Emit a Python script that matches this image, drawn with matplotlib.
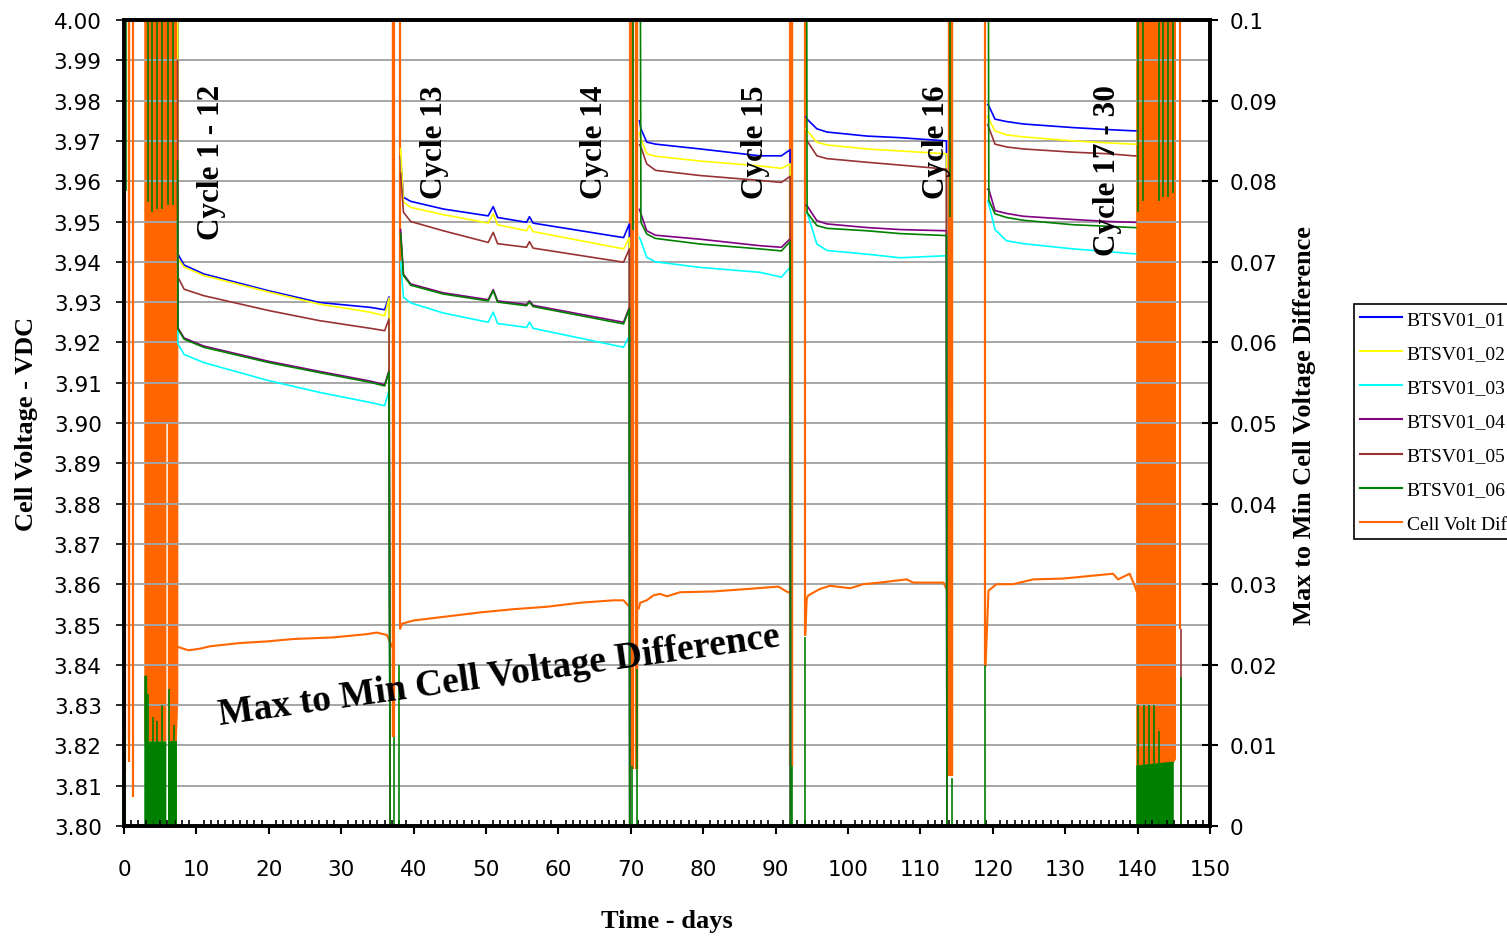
import numpy as np
import matplotlib
matplotlib.use('Agg')
import matplotlib.pyplot as plt
from matplotlib.lines import Line2D

nan = np.nan

# ---- cell voltages during the rest periods (days, VDC) ----
rest_days = [7.40, 7.45, 8.3, 11.0, 20.0, 27.0, 34.0, 36.0, 36.6, 36.9, nan,
             38.2, 38.6, 39.6, 44.1, 50.3, 51.0, 51.6, 55.6, 56.0, 56.5, 69.0, 69.8, 69.9, nan,
             71.2, 71.4, 72.2, 73.4, 79.6, 87.8, 90.8, 92.0, 92.1, nan,
             94.2, 94.35, 95.7, 97.1, 102.6, 107.2, 113.6, 113.7, nan,
             119.3, 119.45, 120.3, 121.9, 124.2, 131.1, 136.0, 139.4, 139.75]

btsv01_01 = [4.10, 3.9419, 3.9392, 3.9370, 3.9328, 3.9299, 3.9287, 3.9281, 3.9313, 3.70, nan,
             3.966, 3.9560, 3.9550, 3.9531, 3.9514, 3.9537, 3.9510, 3.9498, 3.9512, 3.9496, 3.9460, 3.9494, 3.70, nan,
             3.975, 3.9730, 3.9697, 3.9692, 3.9680, 3.9663, 3.9663, 3.9678, 3.70, nan,
             3.976, 3.9754, 3.9730, 3.9722, 3.9712, 3.9708, 3.9700, 3.70, nan,
             3.979, 3.9787, 3.9754, 3.9748, 3.9742, 3.9733, 3.9728, 3.9725, 3.9725]
btsv01_02 = [4.10, 3.9407, 3.9387, 3.9366, 3.9325, 3.9295, 3.9275, 3.9266, 3.9310, 3.70, nan,
             3.968, 3.9548, 3.9535, 3.9517, 3.9496, 3.9519, 3.9492, 3.9477, 3.9490, 3.9475, 3.9432, 3.9460, 3.70, nan,
             3.972, 3.9705, 3.9668, 3.9662, 3.9650, 3.9638, 3.9632, 3.9643, 3.70, nan,
             3.973, 3.9725, 3.9697, 3.9690, 3.9680, 3.9675, 3.9668, 3.70, nan,
             3.976, 3.9754, 3.9725, 3.9715, 3.9710, 3.9700, 3.9695, 3.9692, 3.9692]
btsv01_03 = [3.950, 3.9196, 3.9170, 3.9150, 3.9105, 3.9076, 3.9051, 3.9043, 3.9080, 3.70, nan,
             3.940, 3.9312, 3.9298, 3.9273, 3.9250, 3.9275, 3.9247, 3.9237, 3.9250, 3.9235, 3.9188, 3.9216, 3.70, nan,
             3.946, 3.9452, 3.9411, 3.9400, 3.9386, 3.9374, 3.9362, 3.9386, 3.70, nan,
             3.9522, 3.9522, 3.9444, 3.9428, 3.9419, 3.9410, 3.9415, 3.70, nan,
             3.955, 3.9543, 3.9480, 3.9452, 3.9445, 3.9432, 3.9425, 3.9420, 3.9420]
btsv01_04 = [3.960, 3.9236, 3.9211, 3.9191, 3.9153, 3.9128, 3.9104, 3.9095, 3.9130, 3.70, nan,
             3.948, 3.9369, 3.9345, 3.9323, 3.9306, 3.9331, 3.9303, 3.9294, 3.9303, 3.9292, 3.9250, 3.9287, 3.70, nan,
             3.953, 3.9519, 3.9477, 3.9466, 3.9456, 3.9440, 3.9436, 3.9457, 3.70, nan,
             3.954, 3.9539, 3.9502, 3.9494, 3.9485, 3.9480, 3.9477, 3.70, nan,
             3.958, 3.9580, 3.9527, 3.9520, 3.9513, 3.9505, 3.9500, 3.9498, 3.9498]
btsv01_05 = [3.990, 3.9362, 3.9332, 3.9316, 3.9279, 3.9254, 3.9235, 3.9229, 3.9258, 3.70, nan,
             3.962, 3.9523, 3.9500, 3.9477, 3.9448, 3.9473, 3.9445, 3.9436, 3.9450, 3.9434, 3.9399, 3.9432, 3.70, nan,
             3.969, 3.9685, 3.9643, 3.9627, 3.9614, 3.9602, 3.9597, 3.9612, 3.70, nan,
             3.970, 3.9700, 3.9663, 3.9656, 3.9647, 3.9640, 3.9630, 3.70, nan,
             3.974, 3.9733, 3.9692, 3.9685, 3.9680, 3.9672, 3.9668, 3.9663, 3.9663]
btsv01_06 = [3.965, 3.9233, 3.9208, 3.9188, 3.9150, 3.9125, 3.9101, 3.9092, 3.9127, 3.70, nan,
             3.947, 3.9366, 3.9342, 3.9320, 3.9303, 3.9328, 3.9300, 3.9291, 3.9300, 3.9289, 3.9246, 3.9283, 3.70, nan,
             4.10, 3.9498, 3.9469, 3.9458, 3.9444, 3.9432, 3.9427, 3.9450, 3.70, nan,
             4.10, 3.9522, 3.9490, 3.9483, 3.9477, 3.9470, 3.9465, 3.70, nan,
             4.10, 3.9553, 3.9519, 3.9510, 3.9503, 3.9492, 3.9488, 3.9485, 3.9485]

# green (cell 6) swings seen inside the cycling blocks and spikes
green_low_days = [0.15, 3.36, 4.05, 4.51, 5.20, 6.26, 6.91, 37.3, 38.05, 70.1, 70.9,
                  92.3, 94.1, 114.3, 118.95, 140.1, 140.9, 141.6, 142.3, 143.0, 145.95]
green_low_tops = [3.8236, 3.8328, 3.827, 3.8261, 3.830, 3.834, 3.825, 3.822, 3.840, 3.815, 3.839,
                  3.815, 3.847, 3.812, 3.840, 3.830, 3.830, 3.830, 3.830, 3.8236, 3.837]
green_high_days = [0.25, 3.3, 3.8, 4.5, 5.3, 6.1, 6.7, 70.3, 114.15,
                   140.1, 140.8, 142.9, 143.5, 144.2, 144.9]
green_high_lows = [3.9576, 3.9548, 3.9524, 3.953, 3.953, 3.954, 3.954, 3.948, 3.951,
                   3.9524, 3.955, 3.955, 3.956, 3.956, 3.957]
green_fill_days = [2.8, 3.2, 3.25, 5.85, nan, 6.05, 7.35, nan, 139.8, 145.0]
green_fill_tops = [3.8373, 3.8373, 3.821, 3.821, nan, 3.821, 3.821, nan, 3.815, 3.816]
red_low_days = [145.95]
red_low_tops = [3.849]

# ---- max to min cell voltage difference (right axis) ----
diff_days = [7.5, 8.9, 10.5, 11.9, 16.0, 19.7, 23.4, 28.9, 33.5, 34.9, 36.3, 37.0, nan,
             38.15, 38.4, 40.0, 44.6, 49.2, 53.8, 58.4, 63.0, 67.6, 69.0, 69.7, nan,
             71.1, 71.3, 72.2, 73.1, 74.0, 75.0, 76.8, 81.4, 86.0, 90.4, 91.5, 92.0, nan,
             94.1, 94.3, 94.5, 96.1, 97.5, 100.3, 102.1, 104.4, 108.1, 109.0, 113.2, 113.8, nan,
             119.0, 119.4, 120.5, 122.8, 125.6, 129.7, 134.3, 136.6, 137.3, 138.9, 139.6, 139.9]
diff_vals = [0.0222, 0.0218, 0.0220, 0.0223, 0.0227, 0.0229, 0.0232, 0.0234, 0.0238, 0.0240, 0.0237, 0.0223, nan,
             0.0245, 0.0251, 0.0255, 0.0260, 0.0265, 0.0269, 0.0272, 0.0277, 0.0280, 0.0280, 0.0273, nan,
             0.0270, 0.0277, 0.0280, 0.0286, 0.0288, 0.0285, 0.0290, 0.0291, 0.0294, 0.0297, 0.0291, 0.0289, nan,
             0.0237, 0.0282, 0.0286, 0.0294, 0.0298, 0.0295, 0.0300, 0.0302, 0.0306, 0.0302, 0.0302, 0.0290, nan,
             0.0199, 0.0292, 0.0300, 0.0300, 0.0306, 0.0307, 0.0311, 0.0313, 0.0306, 0.0313, 0.0298, 0.0290]

spike_days = [0.05, 0.2, 0.7, 0.75, 1.2, 37.1, 37.2, 37.3, 38.1,
              69.9, 70.0, 70.1, 70.2, 70.3, 70.7, 70.8, 70.9,
              92.0, 92.1, 92.2, 92.3, 94.05,
              113.9, 114.0, 114.1, 114.2, 114.3, 114.4, 118.95, 145.9]
spike_lows = [0.0067, 0.0067, 0.0108, 0.008, 0.0036, 0.011, 0.011, 0.011, 0.0245,
              0.0071, 0.0071, 0.0071, 0.0071, 0.0071, 0.0071, 0.0071, 0.0071,
              0.0075, 0.0075, 0.0075, 0.0075, 0.0237,
              0.0062, 0.0062, 0.0062, 0.0062, 0.0062, 0.0062, 0.0199, 0.0244]

block_days = [2.8, 5.85, 5.85, 6.05, 6.05, 7.3, 7.5, nan, 139.8, 145.0, 145.3]
block_lows = [0.0105, 0.0105, 0.05, 0.05, 0.0105, 0.0105, 0.0155, nan, 0.0074, 0.0078, 0.0083]

cell_names = ['BTSV01_01', 'BTSV01_02', 'BTSV01_03', 'BTSV01_04', 'BTSV01_05', 'BTSV01_06']
cell_colors = ['#0000ff', '#ffff00', '#00ffff', '#800080', '#993333', '#008000']
diff_name = 'Cell Volt Diff'
diff_color = '#ff6600'

serif = ['Liberation Serif', 'DejaVu Serif']

fig = plt.figure(figsize=(15.07, 9.37), dpi=100)
ax = fig.add_axes([124 / 1507, 110 / 937, 1086 / 1507, 806 / 937])
ax2 = ax.twinx()
ax.set_zorder(ax2.get_zorder() + 1)
ax.patch.set_visible(False)

# right axis: difference
ax2.fill_between(block_days, block_lows, 0.12, color=diff_color, lw=0)
ax2.plot(diff_days, diff_vals, color=diff_color, lw=1.5)
ax2.vlines(spike_days, spike_lows, 0.12, color=diff_color, lw=1.6)
ax2.set_ylim(0, 0.1)
ax2.set_yticks(np.arange(0, 0.1001, 0.01))
ax2.set_yticklabels(['0'] + ['%g' % v for v in np.arange(0.01, 0.1001, 0.01)])
ax2.set_yticks(np.arange(0, 0.1001, 0.005), minor=True)
ax2.grid(True, which='both', axis='y', color='#a6a6a6', lw=1.4)
ax2.tick_params(axis='y', which='major', direction='inout', length=12, width=1.5,
                pad=8, labelsize=15.5)
ax2.tick_params(axis='y', which='minor', length=0)

# left axis: cell voltages
cells = [btsv01_01, btsv01_02, btsv01_03, btsv01_04, btsv01_05, btsv01_06]
for vals, color in zip(cells, cell_colors):
    ax.plot(rest_days, vals, color=color, lw=1.2)
ax.vlines(red_low_days, 3.70, red_low_tops, color=cell_colors[4], lw=1.2)
ax.fill_between(green_fill_days, 3.70, green_fill_tops, color=cell_colors[5], lw=0)
ax.vlines(green_low_days, 3.70, green_low_tops, color=cell_colors[5], lw=1.2)
ax.vlines(green_high_days, green_high_lows, 4.10, color=cell_colors[5], lw=1.2)

ax.set_xlim(0, 150)
ax.set_ylim(3.80, 4.00)
ax.set_xticks(np.arange(0, 151, 10))
ax.set_xticks(np.arange(0, 151, 1), minor=True)
ax.set_yticks(np.arange(3.80, 4.0001, 0.01))
ax.set_yticklabels(['%.2f' % v for v in np.arange(3.80, 4.0001, 0.01)])
ax.tick_params(axis='y', which='major', direction='out', length=6, width=1.2,
               pad=10, labelsize=15.5)
ax.tick_params(axis='x', which='major', direction='out', length=6, width=1.5,
               pad=18, labelsize=15.5)
ax.tick_params(axis='x', which='minor', direction='in', length=4, width=1.2)

for a in (ax, ax2):
    for sp in a.spines.values():
        sp.set_linewidth(2.6)
        sp.set_color('black')

# annotations
cycle_labels = ['Cycle 1 - 12', 'Cycle 13', 'Cycle 14', 'Cycle 15', 'Cycle 16', 'Cycle 17 - 30']
cycle_days = [12.1, 42.9, 65.0, 87.2, 112.2, 135.8]
for lab, d in zip(cycle_labels, cycle_days):
    ax.text(d, 3.9841, lab, rotation=90, ha='center', va='top',
            family=serif, fontweight='bold', fontsize=22.5)
ax.text(52.0, 3.8351, 'Max to Min Cell Voltage Difference', rotation=8,
        rotation_mode='anchor', ha='center', va='baseline',
        family=serif, fontweight='bold', fontsize=27)

fig.text(27 / 1507, 1 - 424 / 937, 'Cell Voltage - VDC', rotation=90, ha='center',
         va='center', family=serif, fontweight='bold', fontsize=19)
fig.text(667 / 1507, 1 - 922 / 937, 'Time - days', ha='center', va='center',
         family=serif, fontweight='bold', fontsize=19)
fig.text(1305 / 1507, 1 - 426 / 937, 'Max to Min Cell Voltage Difference', rotation=90,
         ha='center', va='center', family=serif, fontweight='bold', fontsize=19)

handles = [Line2D([], [], color=c, lw=1.5) for c in cell_colors]
handles.append(Line2D([], [], color=diff_color, lw=1.5))
leg = fig.legend(handles, cell_names + [diff_name], loc='upper left',
                 bbox_to_anchor=(1354 / 1507, 1 - 305 / 937), borderaxespad=0,
                 prop={'family': serif, 'size': 14}, fancybox=False, framealpha=1,
                 handlelength=2.14, handletextpad=0.26, borderpad=0.32,
                 labelspacing=0.85)
leg.get_frame().set_edgecolor('black')
leg.get_frame().set_linewidth(1.2)

fig.savefig('out.png', dpi=100)
